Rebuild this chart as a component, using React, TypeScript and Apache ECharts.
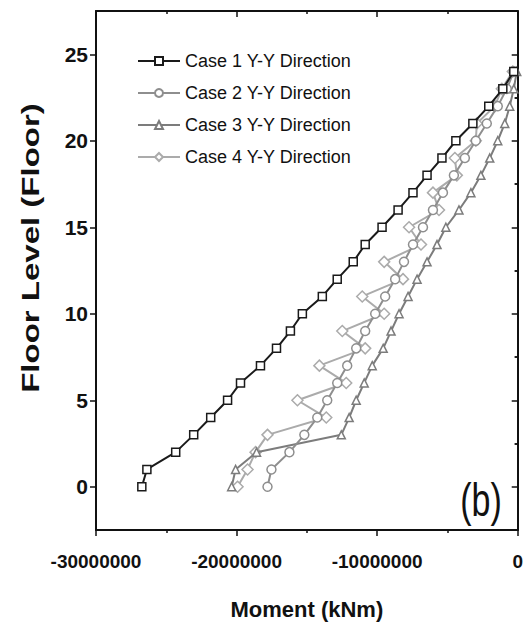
import React, { useEffect, useRef } from "react";
import * as echarts from "echarts";

const floors = [0, 1, 2, 3, 4, 5, 6, 7, 8, 9, 10, 11, 12, 13, 14, 15, 16, 17, 18, 19, 20, 21, 22, 23, 24];

const case1 = [
  -26740000, -26380000, -24330000, -23050000, -21840000, -20640000, -19720000, -18300000,
  -17160000, -16170000, -15320000, -13900000, -12840000, -11700000, -10850000, -9650000,
  -8510000, -7450000, -6450000, -5390000, -4400000, -3190000, -2060000, -1060000, -280000,
];
const case2 = [
  -17800000, -17520000, -16240000, -15180000, -14260000, -13550000, -12840000, -12130000,
  -11490000, -10850000, -10140000, -9430000, -8720000, -8090000, -7450000, -6740000,
  -6030000, -5320000, -4540000, -3760000, -2980000, -2200000, -1420000, -780000, -280000,
];
const case3 = [
  -20350000, -20070000, -18580000, -12550000, -11990000, -11490000, -10920000, -10350000,
  -9570000, -9010000, -8440000, -7800000, -7160000, -6450000, -5740000, -5110000,
  -4180000, -3330000, -2620000, -1990000, -1420000, -920000, -570000, -280000, -70000,
];
const case4 = [
  -19930000, -19220000, -18650000, -17800000, -13620000, -15670000, -12200000, -14110000,
  -10850000, -12480000, -9500000, -11060000, -8160000, -9500000, -6880000, -7730000,
  -5600000, -6030000, -4330000, -4470000, -2980000, -2910000, -1630000, -1130000, -350000,
];

const seriesNames = ["Case 1 Y-Y Direction", "Case 2 Y-Y Direction", "Case 3 Y-Y Direction", "Case 4 Y-Y Direction"];
const yMajorTicks = [0, 5, 10, 15, 20, 25];
const yMinorTicks = [2.5, 7.5, 12.5, 17.5, 22.5];

const FONT = "'Liberation Sans', Arial, sans-serif";

export default function App() {
  const ref = useRef<HTMLDivElement>(null);
  useEffect(() => {
    if (!ref.current) return;
    const chart = echarts.init(ref.current, null, { renderer: "svg" });
    const pairs = (xs: number[]) => xs.map((v, i) => [v, floors[i]]);
    const cfg = [
      { data: case1, color: "#1a1a1a", symbol: "rect", size: 8 },
      { data: case2, color: "#8e8e8e", symbol: "circle", size: 9 },
      { data: case3, color: "#7c7c7c", symbol: "triangle", size: 8 },
      { data: case4, color: "#ababab", symbol: "diamond", size: 11 },
    ];
    const axisLineStyle = { color: "#111", width: 2 };
    const tickStyle = { color: "#111", width: 1.5 };
    const yBase = { type: "value", min: -2.5, max: 27.5, splitLine: { show: false } };
    chart.setOption({
      animation: false,
      backgroundColor: "#fff",
      grid: { left: 96, right: 7, top: 11, bottom: 100, containLabel: false },
      legend: {
        orient: "vertical",
        left: 132,
        top: 47,
        itemWidth: 42,
        itemHeight: 10,
        itemGap: 14,
        textStyle: { fontFamily: FONT, fontSize: 18, color: "#111" },
        data: seriesNames,
      },
      xAxis: [
        {
          type: "value",
          position: "bottom",
          min: -30000000,
          max: 0,
          interval: 10000000,
          axisLine: { show: true, onZero: false, lineStyle: axisLineStyle },
          axisTick: { show: true, length: 6, lineStyle: tickStyle },
          minorTick: { show: true, splitNumber: 2, length: 3, lineStyle: tickStyle },
          splitLine: { show: false },
          axisLabel: {
            fontFamily: FONT,
            fontWeight: "bold",
            fontSize: 19,
            color: "#111",
            margin: 22,
            formatter: (v: number) => String(v),
          },
          name: "Moment (kNm)",
          nameLocation: "middle",
          nameGap: 68,
          nameTextStyle: { fontFamily: FONT, fontWeight: "bold", fontSize: 22, color: "#111" },
        },
        {
          type: "value",
          position: "top",
          min: -30000000,
          max: 0,
          interval: 10000000,
          axisLine: { show: true, onZero: false, lineStyle: axisLineStyle },
          axisTick: { show: true, inside: true, length: 6, lineStyle: tickStyle },
          minorTick: { show: true, splitNumber: 2, length: 3, lineStyle: tickStyle },
          splitLine: { show: false },
          axisLabel: { show: false },
        },
      ],
      yAxis: [
        {
          ...yBase,
          position: "left",
          axisLine: { show: true, onZero: false, lineStyle: axisLineStyle },
          axisTick: { show: true, length: 6, customValues: yMajorTicks, lineStyle: tickStyle },
          axisLabel: {
            customValues: yMajorTicks,
            fontFamily: FONT,
            fontWeight: "bold",
            fontSize: 21,
            color: "#111",
            margin: 8,
          },
        },
        {
          ...yBase,
          position: "left",
          axisLine: { show: false },
          axisTick: { show: true, length: 3, customValues: yMinorTicks, lineStyle: tickStyle },
          axisLabel: { show: false },
        },
        {
          ...yBase,
          position: "right",
          axisLine: { show: true, onZero: false, lineStyle: axisLineStyle },
          axisTick: { show: true, inside: true, length: 6, customValues: yMajorTicks, lineStyle: tickStyle },
          axisLabel: { show: false },
        },
        {
          ...yBase,
          position: "right",
          axisLine: { show: false },
          axisTick: { show: true, inside: true, length: 3, customValues: yMinorTicks, lineStyle: tickStyle },
          axisLabel: { show: false },
        },
      ],
      graphic: [
        {
          type: "text",
          x: 31,
          y: 248,
          rotation: Math.PI / 2,
          scaleY: 0.75,
          style: {
            text: "Floor Level (Floor)",
            fontFamily: FONT,
            fontWeight: "bold",
            fontSize: 33,
            fill: "#111",
            align: "center",
            verticalAlign: "middle",
          },
        },
        {
          type: "text",
          x: 481,
          y: 500,
          scaleX: 0.74,
          style: {
            text: "(b)",
            fontFamily: FONT,
            fontSize: 46,
            fill: "#111",
            align: "center",
            verticalAlign: "middle",
          },
        },
      ],
      series: cfg.map((c, i) => ({
        name: seriesNames[i],
        type: "line",
        xAxisIndex: 0,
        yAxisIndex: 0,
        data: pairs(c.data),
        symbol: c.symbol,
        symbolSize: c.size,
        showSymbol: true,
        lineStyle: { color: c.color, width: 2 },
        itemStyle: { color: "#fff", borderColor: c.color, borderWidth: 1.5 },
        z: 10 - i,
      })),
    });
    return () => chart.dispose();
  }, []);
  return <div ref={ref} style={{ width: 526, height: 630, position: "absolute", left: 0, top: 0 }} />;
}
